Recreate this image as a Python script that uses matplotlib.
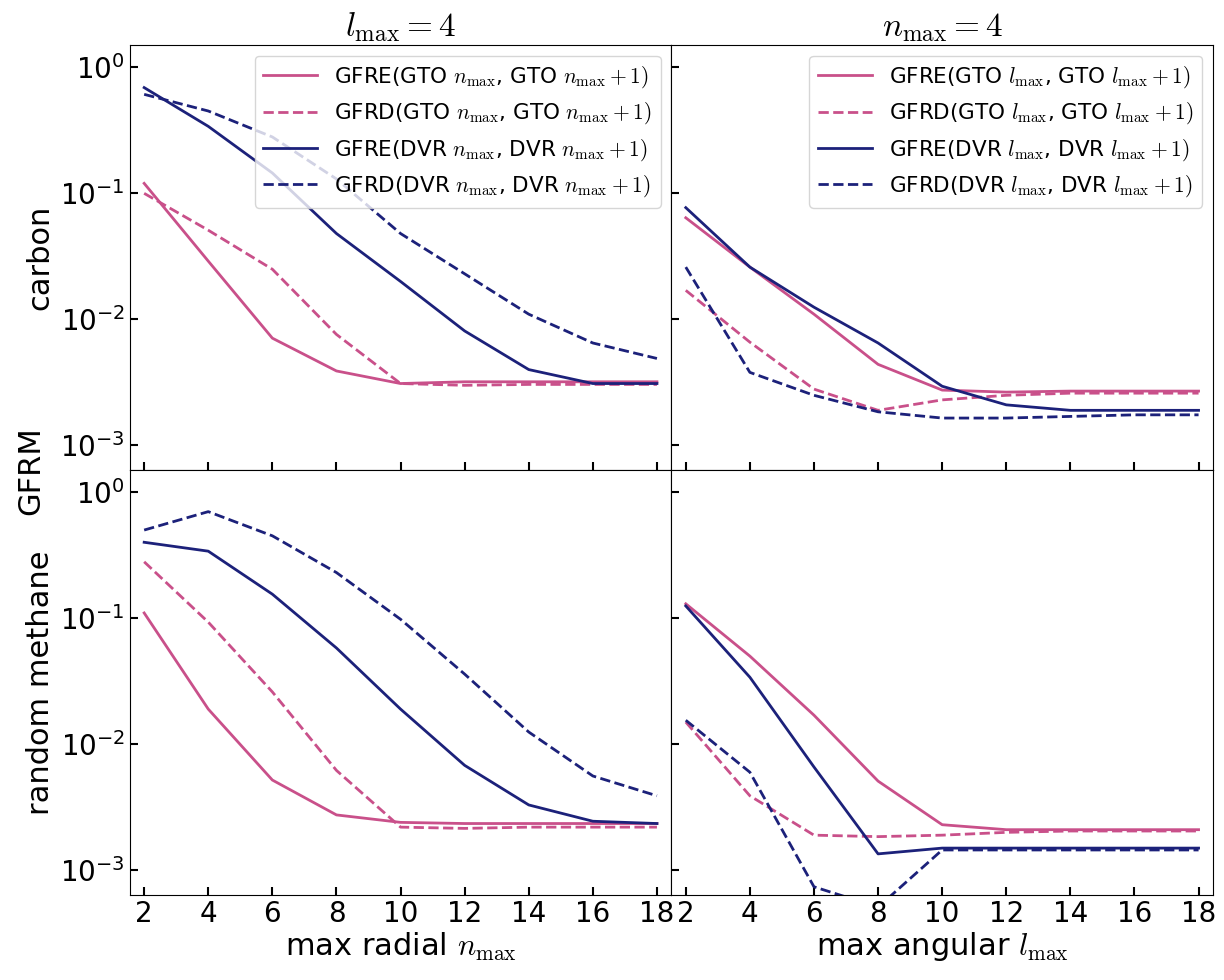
import matplotlib
matplotlib.use("Agg")
import matplotlib.pyplot as plt

plt.rcParams['mathtext.fontset'] = 'cm'
plt.rcParams['font.family'] = ['DejaVu Sans']

x = [2, 4, 6, 8, 10, 12, 14, 16, 18]

# carbon, vs n_max (l_max = 4)
c_n_gfre_gto = [0.12, 0.029, 7.1e-3, 3.9e-3, 3.1e-3, 3.2e-3, 3.2e-3, 3.2e-3, 3.2e-3]
c_n_gfrd_gto = [0.10, 0.051, 0.025, 7.6e-3, 3.1e-3, 3.0e-3, 3.05e-3, 3.05e-3, 3.05e-3]
c_n_gfre_dvr = [0.69, 0.34, 0.145, 0.048, 0.020, 8.1e-3, 4.0e-3, 3.1e-3, 3.1e-3]
c_n_gfrd_dvr = [0.61, 0.45, 0.28, 0.13, 0.048, 0.023, 0.011, 6.5e-3, 4.9e-3]
# carbon, vs l_max (n_max = 4)
c_l_gfre_gto = [0.064, 0.026, 0.011, 4.4e-3, 2.75e-3, 2.65e-3, 2.7e-3, 2.7e-3, 2.7e-3]
c_l_gfrd_gto = [0.017, 6.6e-3, 2.8e-3, 1.9e-3, 2.3e-3, 2.5e-3, 2.6e-3, 2.6e-3, 2.6e-3]
c_l_gfre_dvr = [0.077, 0.026, 0.0125, 6.5e-3, 2.95e-3, 2.1e-3, 1.9e-3, 1.9e-3, 1.9e-3]
c_l_gfrd_dvr = [0.026, 3.8e-3, 2.5e-3, 1.85e-3, 1.65e-3, 1.65e-3, 1.7e-3, 1.75e-3, 1.75e-3]
# random methane, vs n_max
m_n_gfre_gto = [0.11, 0.019, 5.2e-3, 2.75e-3, 2.4e-3, 2.35e-3, 2.35e-3, 2.35e-3, 2.35e-3]
m_n_gfrd_gto = [0.28, 0.093, 0.026, 6.2e-3, 2.2e-3, 2.15e-3, 2.2e-3, 2.2e-3, 2.2e-3]
m_n_gfre_dvr = [0.40, 0.34, 0.155, 0.058, 0.019, 6.8e-3, 3.3e-3, 2.45e-3, 2.35e-3]
m_n_gfrd_dvr = [0.50, 0.70, 0.45, 0.23, 0.098, 0.036, 0.0125, 5.6e-3, 3.9e-3]
# random methane, vs l_max
m_l_gfre_gto = [0.13, 0.05, 0.017, 5.1e-3, 2.3e-3, 2.1e-3, 2.1e-3, 2.1e-3, 2.1e-3]
m_l_gfrd_gto = [0.015, 3.9e-3, 1.9e-3, 1.85e-3, 1.9e-3, 2.0e-3, 2.05e-3, 2.05e-3, 2.05e-3]
m_l_gfre_dvr = [0.125, 0.034, 6.6e-3, 1.35e-3, 1.5e-3, 1.5e-3, 1.5e-3, 1.5e-3, 1.5e-3]
m_l_gfrd_dvr = [0.0155, 6.0e-3, 7.4e-4, 5.1e-4, 1.45e-3, 1.45e-3, 1.45e-3, 1.45e-3, 1.45e-3]

PINK = '#c9508a'
NAVY = '#1c217a'

fig, axes = plt.subplots(2, 2, figsize=(12.24, 9.8), dpi=100, sharex=True, sharey=True)
fig.subplots_adjust(left=0.106, right=0.991, top=0.954, bottom=0.087, wspace=0, hspace=0)

panels = [
    (axes[0, 0], [c_n_gfre_gto, c_n_gfrd_gto, c_n_gfre_dvr, c_n_gfrd_dvr], 'n'),
    (axes[0, 1], [c_l_gfre_gto, c_l_gfrd_gto, c_l_gfre_dvr, c_l_gfrd_dvr], 'l'),
    (axes[1, 0], [m_n_gfre_gto, m_n_gfrd_gto, m_n_gfre_dvr, m_n_gfrd_dvr], 'n'),
    (axes[1, 1], [m_l_gfre_gto, m_l_gfrd_gto, m_l_gfre_dvr, m_l_gfrd_dvr], 'l'),
]
for ax, series, v in panels:
    sym = r'$%s_{\rm max}$' % v
    symp = r'$%s_{\rm max}+1)$' % v
    labels = ['GFRE(GTO ' + sym + ', GTO ' + symp,
              'GFRD(GTO ' + sym + ', GTO ' + symp,
              'GFRE(DVR ' + sym + ', DVR ' + symp,
              'GFRD(DVR ' + sym + ', DVR ' + symp]
    styles = [(PINK, '-'), (PINK, '--'), (NAVY, '-'), (NAVY, '--')]
    for s, (c, ls), lab in zip(series, styles, labels):
        ax.plot(x, s, color=c, ls=ls, lw=2, label=lab)
    ax.set_yscale('log')
    ax.set_ylim(6.4e-4, 1.5)
    ax.set_xlim(1.55, 18.45)
    ax.set_xticks(x)
    ax.tick_params(direction='in', labelsize=20, length=6, width=1.5)
    ax.tick_params(which='minor', left=False, right=False)

axes[0, 0].legend(loc='upper right', fontsize=15.5, framealpha=0.8, handlelength=2.5)
axes[0, 1].legend(loc='upper right', fontsize=15.5, framealpha=0.8, handlelength=2.5)

axes[0, 0].set_title(r'$l_{\rm max} = 4$', fontsize=24)
axes[0, 1].set_title(r'$n_{\rm max} = 4$', fontsize=24)
axes[0, 0].set_ylabel('carbon', fontsize=22)
axes[1, 0].set_ylabel('random methane', fontsize=22)
axes[1, 0].set_xlabel(r'max radial $n_{\rm max}$', fontsize=22, labelpad=2)
axes[1, 1].set_xlabel(r'max angular $l_{\rm max}$', fontsize=22, labelpad=2)
fig.text(0.013, 0.52, 'GFRM', rotation=90, fontsize=22, va='center', ha='left')

fig.savefig('out.png', dpi=100)
